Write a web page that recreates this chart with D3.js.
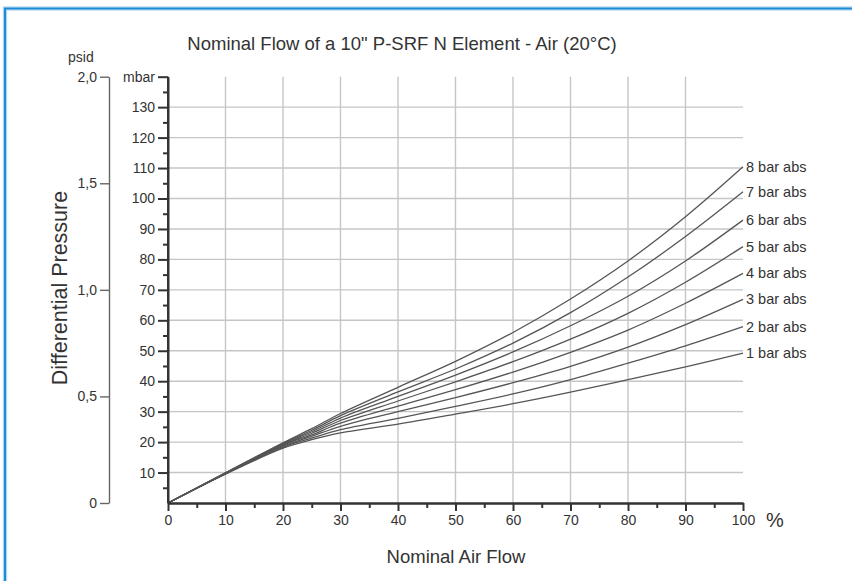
<!DOCTYPE html>
<html>
<head>
<meta charset="utf-8">
<script src="https://cdn.jsdelivr.net/npm/d3@7"></script>
<style>
  html, body { margin: 0; padding: 0; background: #fff; }
  svg { display: block; }
  text { font-family: "Liberation Sans", Arial, Helvetica, sans-serif; fill: #333; }
</style>
</head>
<body>
<svg id="chart" width="852" height="581"></svg>
<script>
// ---- data ----
const flowPct = [0, 10, 20, 25, 30, 40, 50, 60, 70, 80, 90, 100];
const bar1 = [0, 9.5, 18.0, 20.8, 23.0, 25.9, 29.2, 32.6, 36.4, 40.5, 44.7, 49.2];
const bar2 = [0, 9.6, 18.3, 21.3, 24.1, 27.8, 31.7, 35.8, 40.5, 45.9, 51.6, 57.9];
const bar3 = [0, 9.6, 18.6, 21.9, 25.2, 30.0, 34.6, 39.5, 44.9, 51.2, 58.6, 66.9];
const bar4 = [0, 9.7, 18.9, 22.4, 26.2, 31.8, 37.2, 43.0, 49.5, 56.8, 65.6, 75.4];
const bar5 = [0, 9.7, 19.2, 22.9, 27.1, 33.5, 39.8, 46.4, 53.8, 62.3, 72.5, 84.2];
const bar6 = [0, 9.8, 19.4, 23.4, 27.9, 35.0, 42.0, 49.6, 58.2, 67.9, 79.5, 92.9];
const bar7 = [0, 9.9, 19.6, 23.9, 28.7, 36.5, 44.0, 52.5, 62.5, 74.2, 87.5, 102.2];
const bar8 = [0, 9.9, 19.8, 24.4, 29.4, 38.0, 46.5, 56.0, 67.0, 79.5, 94.0, 110.4];
const seriesNames = ["1 bar abs", "2 bar abs", "3 bar abs", "4 bar abs",
                     "5 bar abs", "6 bar abs", "7 bar abs", "8 bar abs"];
const seriesValues = [bar1, bar2, bar3, bar4, bar5, bar6, bar7, bar8];

const xMajor = [0, 10, 20, 30, 40, 50, 60, 70, 80, 90, 100];
const xMinor = [5, 15, 25, 35, 45, 55, 65, 75, 85, 95];
const yMajor = [10, 20, 30, 40, 50, 60, 70, 80, 90, 100, 110, 120, 130, 140];
const yMinor = [5, 15, 25, 35, 45, 55, 65, 75, 85, 95, 105, 115, 125, 135];
const yTopLabel = "mbar";
const psidTicks = [0, 0.5, 1.0, 1.5, 2.0];
const psidLabels = ["0", "0,5", "1,0", "1,5", "2,0"];
const xGrid = [10, 20, 30, 40, 50, 60, 70, 80, 90];
const yGrid = [10, 20, 30, 40, 50, 60, 70, 80, 90, 100, 110, 120, 130];

const titleText = "Nominal Flow of a 10\" P-SRF N Element - Air (20°C)";
const xTitle = "Nominal Air Flow";
const yTitle = "Differential Pressure";
const psidUnit = "psid";
const xUnit = "%";

// ---- layout ----
const svg = d3.select("#chart");
const x = d3.scaleLinear().domain([0, 100]).range([168, 743]);
const y = d3.scaleLinear().domain([0, 140]).range([503, 76.7]);
const psid = d3.scaleLinear().domain([0, 2]).range([503, 76.7]);

// blue frame (left and top edges visible)
svg.append("path")
  .attr("d", "M5,581 L5,8.5 L852,8.5")
  .attr("fill", "none").attr("stroke", "#bfe0f5").attr("stroke-width", 4.5);
svg.append("path")
  .attr("d", "M5,581 L5,8.5 L852,8.5")
  .attr("fill", "none").attr("stroke", "#1e8ad6").attr("stroke-width", 2.2);

// grid
const grid = svg.append("g").attr("stroke", "#c6c6c6").attr("stroke-width", 1.4);
grid.selectAll("line.v").data(xGrid).join("line")
  .attr("x1", d => x(d)).attr("x2", d => x(d))
  .attr("y1", y(140)).attr("y2", y(0));
grid.selectAll("line.h").data(yGrid).join("line")
  .attr("x1", x(0)).attr("x2", x(100))
  .attr("y1", d => y(d)).attr("y2", d => y(d));

// curves
const line = d3.line()
  .x((d, i) => x(flowPct[i]))
  .y(d => y(d))
  .curve(d3.curveCatmullRom.alpha(0.5));
svg.append("g").selectAll("path").data(seriesValues).join("path")
  .attr("d", d => line(d))
  .attr("fill", "none").attr("stroke", "#555").attr("stroke-width", 1.3);

// series labels
svg.append("g").selectAll("text").data(seriesValues).join("text")
  .attr("x", x(100) + 3)
  .attr("y", d => y(d[d.length - 1]))
  .attr("dy", "0.35em")
  .attr("font-size", 14.5)
  .attr("fill", "#2a2a2a")
  .text((d, i) => seriesNames[i]);

function styleAxis(g, width) {
  g.selectAll(".domain").attr("stroke", "#333").attr("stroke-width", width);
  g.selectAll(".tick line").attr("stroke", "#333").attr("stroke-width", width);
  g.selectAll(".tick text")
    .attr("font-family", "'Liberation Sans', Arial, sans-serif")
    .attr("font-size", 14).attr("fill", "#333");
}

// x axis
const gxMinor = svg.append("g").attr("transform", `translate(0,${y(0)})`)
  .call(d3.axisBottom(x).tickValues(xMinor).tickSize(5).tickSizeOuter(0).tickFormat(""));
styleAxis(gxMinor, 2);
const gx = svg.append("g").attr("transform", `translate(0,${y(0)})`)
  .call(d3.axisBottom(x).tickValues(xMajor).tickSize(8).tickPadding(4).tickSizeOuter(0));
styleAxis(gx, 2);

// y axis (mbar)
const gyMinor = svg.append("g").attr("transform", `translate(${x(0)},0)`)
  .call(d3.axisLeft(y).tickValues(yMinor).tickSize(5).tickSizeOuter(0).tickFormat(""));
styleAxis(gyMinor, 2);
const gy = svg.append("g").attr("transform", `translate(${x(0)},0)`)
  .call(d3.axisLeft(y).tickValues(yMajor).tickSize(10).tickPadding(3).tickSizeOuter(0)
    .tickFormat(d => d === 140 ? yTopLabel : d));
styleAxis(gy, 2);
gy.select(".domain").attr("d", `M0,${y(0)}V${y(140)}`);

// psid axis
const gp = svg.append("g").attr("transform", "translate(109,0)")
  .call(d3.axisLeft(psid).tickValues(psidTicks).tickSize(9).tickPadding(3).tickSizeOuter(0)
    .tickFormat((d, i) => psidLabels[i]));
styleAxis(gp, 1.4);
gp.selectAll(".domain, .tick line").attr("stroke", "#666");

// texts
svg.append("text").attr("x", 402).attr("y", 50).attr("text-anchor", "middle")
  .attr("font-size", 18.5).attr("fill", "#222").text(titleText);
svg.append("text").attr("x", 456).attr("y", 563).attr("text-anchor", "middle")
  .attr("font-size", 18.5).attr("fill", "#222").text(xTitle);
svg.append("text").attr("transform", "translate(67,288) rotate(-90)")
  .attr("text-anchor", "middle").attr("font-size", 21.5).attr("fill", "#222").text(yTitle);
svg.append("text").attr("x", 68).attr("y", 62).attr("font-size", 14)
  .attr("fill", "#333").text(psidUnit);
svg.append("text").attr("x", 766).attr("y", 527).attr("font-size", 20)
  .attr("fill", "#333").text(xUnit);
</script>
</body>
</html>
